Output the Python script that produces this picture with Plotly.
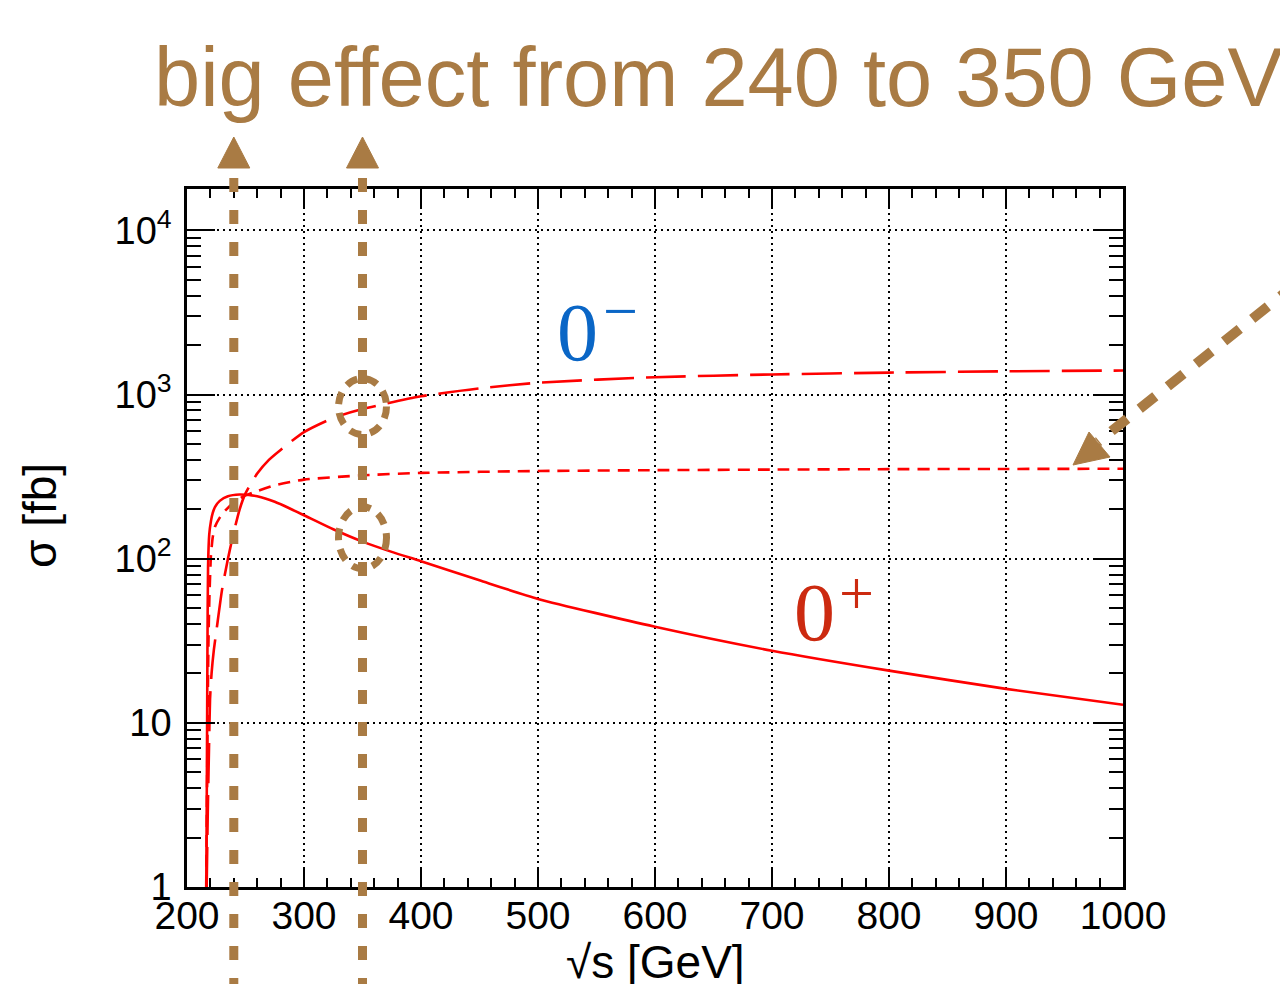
import math
import plotly.graph_objects as go

# ---------------- data ----------------
# 0+ (solid)
sqrt_s_plus = [216.5, 217.0, 217.5, 218.0, 219.0, 220.5, 222, 224, 228, 235, 245, 250, 260, 275,
               300, 325, 350, 375, 400, 450, 500, 600, 700, 800, 900, 1000]
sigma_plus = [1.0, 5.0, 30, 90, 140, 170, 190, 207, 225, 240, 246, 245, 240, 222,
              184, 151, 127, 110, 96.6, 73.8, 56.9, 38.5, 27.5, 20.8, 16.1, 12.9]

# 0- (long dashed)
sqrt_s_minus = [216.8, 217.8, 218.8, 219.7, 221, 223, 225.5, 230, 235, 240, 245, 250, 260, 270,
                280, 300, 325, 350, 400, 450, 500, 600, 700, 800, 900, 1000]
sigma_minus = [1.0, 3.0, 7.0, 14, 20, 28, 38, 65, 100, 145, 200, 250, 330, 400,
               460, 590, 720, 815, 975, 1090, 1180, 1275, 1325, 1360, 1385, 1400]

# mixed (short dashed)
sqrt_s_mix = [216.4, 217.0, 217.6, 218.3, 219.2, 220.5, 222, 224, 228, 232, 240, 248, 260, 275,
              300, 350, 400, 500, 600, 700, 800, 900, 1000]
sigma_mix = [1.0, 3.0, 10, 30, 60, 105, 135, 157, 178, 194, 220, 239, 258, 280,
             303, 322, 333, 342, 346, 349, 351, 352, 353]

x_tickvals = [200, 300, 400, 500, 600, 700, 800, 900, 1000]
y_tickvals = [1, 10, 100, 1000, 10000]
y_ticktext = ["1", "10", "10<sup>2</sup>", "10<sup>3</sup>", "10<sup>4</sup>"]

highlight_energies = [240, 350]          # GeV, vertical arrows
circle_centers = [845, 134]              # fb, at 350 GeV

X_RANGE = [200, 1000]
Y_RANGE_LOG = [0, 4.252]

# ---------------- styles ----------------
RED = "#FF0000"
BROWN = "#A97B44"
BLUE = "#0A66C6"
RED_LABEL = "#CC2A10"
SANS = "Liberation Sans, Arial, Helvetica, sans-serif"
SERIF = "Liberation Serif, Times New Roman, serif"

OFF = 8  # page body margin of the html page
W, H = 1288, 984
ML, MT = 187 - OFF, 189 - OFF
MR = W - (1123 - OFF)
MB = H - (887 - OFF)
PW, PH = W - ML - MR, H - MT - MB


def px_x(X):  # page pixel -> paper x
    return (X - OFF - ML) / PW


def px_y(Y):  # page pixel -> paper y
    return (H - MB - (Y - OFF)) / PH


def data_x_paper(v):
    return (v - X_RANGE[0]) / (X_RANGE[1] - X_RANGE[0])


def data_y_paper(v):
    return (math.log10(v) - Y_RANGE_LOG[0]) / (Y_RANGE_LOG[1] - Y_RANGE_LOG[0])


fig = go.Figure()
fig.add_trace(go.Scatter(x=sqrt_s_plus, y=sigma_plus, mode="lines",
                         line=dict(color=RED, width=2.6, shape="spline", smoothing=0.6),
                         showlegend=False))
fig.add_trace(go.Scatter(x=sqrt_s_minus, y=sigma_minus, mode="lines",
                         line=dict(color=RED, width=2.6, dash="40px,12px", shape="spline", smoothing=0.6),
                         showlegend=False))
fig.add_trace(go.Scatter(x=sqrt_s_mix, y=sigma_mix, mode="lines",
                         line=dict(color=RED, width=2.6, dash="12px,8px", shape="spline", smoothing=0.6),
                         showlegend=False))

minor_y = [k * 10 ** d for d in range(0, 5) for k in range(2, 10) if k * 10 ** d < 17800]

fig.update_xaxes(range=X_RANGE, tickvals=x_tickvals, ticks="inside", ticklen=20, tickwidth=1.5,
                 tickcolor="black", showline=True, linecolor="black", linewidth=2.5, mirror="allticks",
                 showgrid=True, gridcolor="black", gridwidth=1.5, griddash="2px,4px",
                 tickfont=dict(family=SANS, size=39, color="black"), ticklabelstandoff=-8,
                 minor=dict(dtick=20, ticks="inside", ticklen=9, tickwidth=1.5, tickcolor="black",
                            showgrid=False),
                 zeroline=False)
fig.update_yaxes(type="log", range=Y_RANGE_LOG, tickvals=y_tickvals, ticktext=y_ticktext,
                 ticks="inside", ticklen=28, tickwidth=1.5, tickcolor="black",
                 showline=True, linecolor="black", linewidth=2.5, mirror="allticks",
                 showgrid=True, gridcolor="black", gridwidth=1.5, griddash="2px,4px",
                 tickfont=dict(family=SANS, size=38, color="black"), ticklabelstandoff=5,
                 minor=dict(tickmode="array", tickvals=minor_y, ticks="inside", ticklen=14,
                            tickwidth=1.5, tickcolor="black", showgrid=False),
                 zeroline=False)

shapes = []
# vertical dashed arrows
for e in highlight_energies:
    xp = data_x_paper(e)
    shapes.append(dict(type="line", xref="paper", yref="paper", x0=xp, x1=xp,
                       y0=px_y(992), y1=px_y(166),
                       line=dict(color=BROWN, width=9, dash="14px,18px")))
    shapes.append(dict(type="path", xref="paper", yref="paper", xsizemode="pixel", ysizemode="pixel",
                       xanchor=xp, yanchor=px_y(137), path="M 0 0 L -16 -31 L 16 -31 Z",
                       fillcolor=BROWN, line=dict(color=BROWN, width=1)))
# dashed circles at 350 GeV
for c, ry in zip(circle_centers, [28, 31]):
    shapes.append(dict(type="circle", xref="paper", yref="paper", xsizemode="pixel", ysizemode="pixel",
                       xanchor=data_x_paper(highlight_energies[1]), yanchor=data_y_paper(c),
                       x0=-24, x1=24, y0=-ry, y1=ry,
                       line=dict(color=BROWN, width=7, dash="12px,9px")))
# diagonal arrow at right
shapes.append(dict(type="line", xref="paper", yref="paper",
                   x0=px_x(1296), y0=px_y(284), x1=px_x(1098), y1=px_y(442),
                   line=dict(color=BROWN, width=10, dash="20px,16px")))
shapes.append(dict(type="path", xref="paper", yref="paper", xsizemode="pixel", ysizemode="pixel",
                   xanchor=px_x(1073), yanchor=px_y(465), path="M 0 0 L 16 33 L 37 8 Z",
                   fillcolor=BROWN, line=dict(color=BROWN, width=1)))

annotations = [
    dict(text="big effect from 240 to 350 GeV", xref="paper", yref="paper",
         x=px_x(718), y=px_y(77), xanchor="center", yanchor="middle", showarrow=False,
         font=dict(family=SANS, size=83, color=BROWN)),
    dict(text="σ [fb]", xref="paper", yref="paper", x=px_x(40), y=px_y(516),
         xanchor="center", yanchor="middle", textangle=-90, showarrow=False,
         font=dict(family=SANS, size=46, color="black")),
    dict(text="√s [GeV]", xref="paper", yref="paper", x=px_x(655), y=px_y(962),
         xanchor="center", yanchor="middle", showarrow=False,
         font=dict(family=SANS, size=46, color="black")),
    dict(text="0", xref="paper", yref="paper", x=px_x(577), y=px_y(332),
         xanchor="center", yanchor="middle", showarrow=False,
         font=dict(family=SERIF, size=82, color=BLUE)),
    dict(text="−", xref="paper", yref="paper", x=px_x(620), y=px_y(311),
         xanchor="center", yanchor="middle", showarrow=False,
         font=dict(family=SERIF, size=62, color=BLUE)),
    dict(text="0", xref="paper", yref="paper", x=px_x(814), y=px_y(612),
         xanchor="center", yanchor="middle", showarrow=False,
         font=dict(family=SERIF, size=82, color=RED_LABEL)),
    dict(text="+", xref="paper", yref="paper", x=px_x(856), y=px_y(593),
         xanchor="center", yanchor="middle", showarrow=False,
         font=dict(family=SERIF, size=62, color=RED_LABEL)),
]

fig.update_layout(width=W, height=H, margin=dict(l=ML, r=MR, t=MT, b=MB, pad=0),
                  plot_bgcolor="white", paper_bgcolor="white",
                  shapes=shapes, annotations=annotations, showlegend=False)

fig.write_html("out.html")
